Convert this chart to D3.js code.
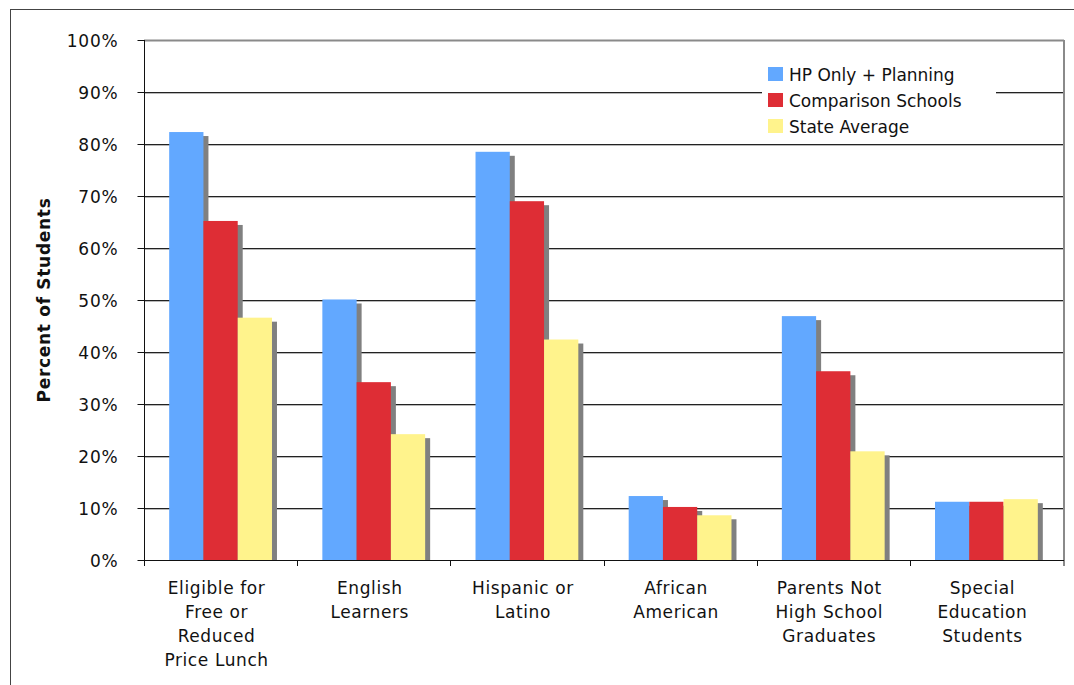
<!DOCTYPE html>
<html>
<head>
<meta charset="utf-8">
<script src="https://cdn.jsdelivr.net/npm/d3@7"></script>
<style>
  html, body { margin: 0; padding: 0; background: #fff; }
  svg { display: block; }
  text { font-family: "DejaVu Sans", Verdana, sans-serif; fill: #111; }
</style>
</head>
<body>
<svg id="chart" width="1074" height="685"></svg>
<script>
// Student demographics by school group
const categories = [
  ["Eligible for", "Free or", "Reduced", "Price Lunch"],
  ["English", "Learners"],
  ["Hispanic or", "Latino"],
  ["African", "American"],
  ["Parents Not", "High School", "Graduates"],
  ["Special", "Education", "Students"]
];
const seriesNames = ["HP Only + Planning", "Comparison Schools", "State Average"];
const hpOnly     = [82.3, 50.1, 78.5, 12.3, 46.9, 11.2];
const comparison = [65.2, 34.2, 69.0, 10.2, 36.3, 11.2];
const stateAvg   = [46.6, 24.2, 42.4,  8.6, 20.9, 11.7];
const yTicks = [0, 10, 20, 30, 40, 50, 60, 70, 80, 90, 100];
const colors = ["#62a8ff", "#de2d35", "#fff38c"];

const seriesValues = [hpOnly, comparison, stateAvg];
const svg = d3.select("#chart");

const plot = { left: 144, right: 1063, top: 40, bottom: 560 };

// outer frame
svg.append("rect")
  .attr("x", 10.5).attr("y", 9.5).attr("width", 1100).attr("height", 700)
  .attr("fill", "none").attr("stroke", "#444").attr("stroke-width", 1);

const y = d3.scaleLinear().domain([0, 100]).range([plot.bottom, plot.top]);
const x = d3.scaleBand().domain(d3.range(categories.length))
  .range([plot.left, plot.right]).padding(0);
const xs = d3.scaleBand().domain(d3.range(seriesNames.length))
  .range([0, x.bandwidth()]).paddingInner(0).paddingOuter(0.735);

// gridlines (dark line with a soft grey edge underneath)
const grid = svg.append("g");
yTicks.filter(t => t > 0 && t < 100).forEach(t => {
  const yy = Math.round(y(t));
  grid.append("line").attr("x1", plot.left).attr("x2", plot.right)
    .attr("y1", yy + 1.5).attr("y2", yy + 1.5).attr("stroke", "#b8b8b8");
  grid.append("line").attr("x1", plot.left).attr("x2", plot.right)
    .attr("y1", yy + 0.5).attr("y2", yy + 0.5).attr("stroke", "#222");
});
// top and right border of the plot area
svg.append("line").attr("x1", plot.left).attr("x2", plot.right + 1)
  .attr("y1", y(100) + 0.5).attr("y2", y(100) + 0.5)
  .attr("stroke", "#8a8a8a").attr("stroke-width", 2);
svg.append("line").attr("x1", plot.right + 1).attr("x2", plot.right + 1)
  .attr("y1", y(100)).attr("y2", plot.bottom + 6)
  .attr("stroke", "#8a8a8a").attr("stroke-width", 2);

// legend panel (covers the gridlines behind it)
const legend = svg.append("g");
legend.append("rect").attr("x", 762).attr("y", 58).attr("width", 234).attr("height", 82)
  .attr("fill", "#fff");
seriesNames.forEach((name, i) => {
  const ly = 67 + i * 26;
  legend.append("rect").attr("x", 768).attr("y", ly).attr("width", 15).attr("height", 14)
    .attr("fill", colors[i]);
  legend.append("text").attr("x", 789).attr("y", ly + 13.5)
    .attr("font-size", 17).text(name);
});

// bars with drop shadows
const bars = svg.append("g");
const shadowDx = 5, shadowDy = 4;
categories.forEach((c, ci) => {
  seriesValues.forEach((vals, si) => {
    const v = vals[ci];
    const bx = x(ci) + xs(si);
    const bw = xs.bandwidth();
    const top = y(v);
    bars.append("rect")
      .attr("x", bx + shadowDx).attr("y", top + shadowDy)
      .attr("width", bw).attr("height", Math.max(0, plot.bottom - top - shadowDy))
      .attr("fill", "#808080");
    bars.append("rect")
      .attr("x", bx).attr("y", top)
      .attr("width", bw).attr("height", plot.bottom - top)
      .attr("fill", colors[si]);
  });
});

// y axis
const yAxis = d3.axisLeft(y).tickValues(yTicks).tickSize(7).tickPadding(0)
  .tickFormat(d => d + "%");
const yg = svg.append("g").attr("transform", `translate(${plot.left + 0.5},0)`).call(yAxis);
yg.select(".domain").attr("stroke", "#111").attr("d", `M0,${plot.top}V${plot.bottom + 6}`);
yg.selectAll(".tick line").attr("stroke", "#111");
yg.selectAll(".tick text")
  .attr("x", -26).attr("dy", "0.36em")
  .attr("font-size", 17).attr("letter-spacing", 0.8)
  .style("font-family", "'DejaVu Sans', Verdana, sans-serif").attr("fill", "#111");

// x axis baseline and category separators
const xg = svg.append("g");
xg.append("line").attr("x1", plot.left).attr("x2", plot.right + 1)
  .attr("y1", plot.bottom + 0.5).attr("y2", plot.bottom + 0.5).attr("stroke", "#111");
d3.range(categories.length).forEach(i => {
  const xx = Math.round(x(i)) + 0.5;
  xg.append("line").attr("x1", xx).attr("x2", xx)
    .attr("y1", plot.bottom).attr("y2", plot.bottom + 6).attr("stroke", "#111");
});

// category labels
categories.forEach((lines, ci) => {
  const cx = x(ci) + x.bandwidth() / 2 - 4;
  const t = svg.append("text").attr("text-anchor", "middle")
    .attr("font-size", 17).attr("letter-spacing", 0.6);
  lines.forEach((ln, li) => {
    t.append("tspan").attr("x", cx).attr("y", 594 + li * 24).text(ln);
  });
});

// y axis title
svg.append("text")
  .attr("transform", `translate(50,${(plot.top + plot.bottom) / 2}) rotate(-90)`)
  .attr("text-anchor", "middle").attr("font-size", 17).attr("font-weight", "bold")
  .attr("letter-spacing", 0.7)
  .text("Percent of Students");
</script>
</body>
</html>
